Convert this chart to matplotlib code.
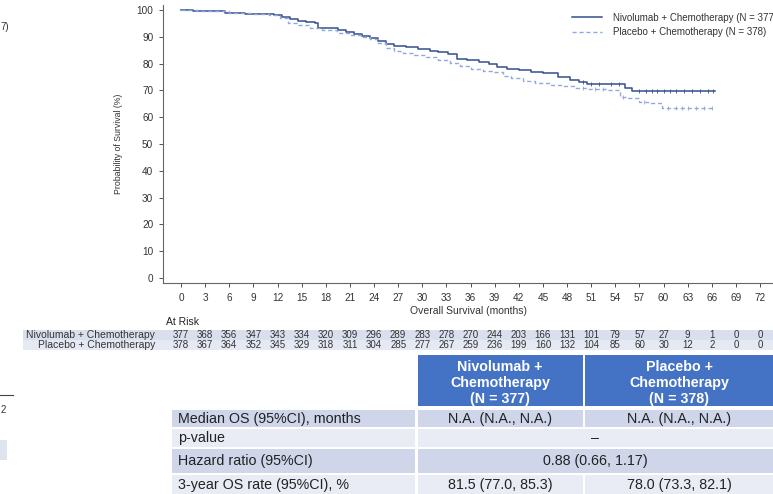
import matplotlib
matplotlib.use("Agg")
import matplotlib.pyplot as plt
from matplotlib.patches import Rectangle
from matplotlib.lines import Line2D
import matplotlib.transforms as mtransforms

plt.rcParams['font.family'] = ['Liberation Sans', 'DejaVu Sans']

# ---- data ----
nivo_t = [0, 1.5, 5.5, 8, 11.5, 12.5, 13.5, 14.5, 15.5, 16.6, 17.0, 19.5, 20.5, 21.5, 22.5,
          23.5, 24.5, 25.5, 26.5, 28, 29.5, 31, 32, 33.2, 34.3, 35.5, 37, 38.3, 39.3, 40.5,
          42, 43.5, 45, 46.9, 48.4, 49.5, 50.5, 55.2, 56.1, 66.4]
nivo_s = [100, 99.6, 98.9, 98.5, 98.2, 97.5, 96.6, 96.0, 95.5, 95.0, 93.5, 92.6, 91.8, 91.0, 90.4,
          89.5, 88.4, 87.3, 86.6, 86.1, 85.4, 84.8, 84.4, 83.6, 81.6, 81.2, 80.6, 79.8, 78.6, 78.0,
          77.5, 77.0, 76.4, 75.2, 73.9, 73.2, 72.3, 70.8, 69.9, 69.9]
plac_t = [0, 2, 4, 6, 9, 11, 12.3, 13.3, 14.5, 16, 17.5, 19.4, 21, 22.5, 23.5, 24.5, 25.5, 26.5,
          27.6, 29, 30.5, 32, 33.5, 34.7, 36, 37.5, 38.8, 40, 41, 42.5, 44, 46, 47.5, 48.8, 50.5,
          53, 54.6, 55.5, 57, 58.3, 59.8, 66.4]
plac_s = [100, 99.7, 99.5, 99.0, 98.6, 98.0, 97.0, 95.2, 94.3, 93.2, 92.5, 91.5, 90.6, 89.9, 89.3,
          87.6, 85.8, 84.8, 84.0, 83.2, 82.5, 81.4, 80.2, 79.2, 78.1, 77.4, 76.8, 75.5, 74.6, 73.6,
          72.7, 72.0, 71.5, 70.8, 70.4, 70.1, 67.6, 67.0, 65.8, 65.2, 63.3, 63.3]
nivo_cens_t = [50.0, 51.0, 52.0, 53.5, 54.5, 57.0, 57.8, 58.5, 59.2, 60.0, 60.8, 61.5, 62.5, 63.5, 64.5, 65.5, 66.2]
plac_cens_t = [50.0, 51.5, 52.5, 55.0, 57.5, 60.5, 61.5, 62.3, 63.0, 64.0, 65.0, 66.0]

risk_months = list(range(0, 73, 3))
nivo_risk = [377, 368, 356, 347, 343, 334, 320, 309, 296, 289, 283, 278, 270, 244, 203, 166, 131,
             101, 79, 57, 27, 9, 1, 0, 0]
plac_risk = [378, 367, 364, 352, 345, 329, 318, 311, 304, 285, 277, 267, 259, 236, 199, 160, 132,
             104, 85, 60, 30, 12, 2, 0, 0]
arm_names = ["Nivolumab + Chemotherapy", "Placebo + Chemotherapy"]
arm_n = [377, 378]

tbl_rows = ["Median OS (95%CI), months", "p-value", "Hazard ratio (95%CI)", "3-year OS rate (95%CI), %"]
tbl_nivo = ["N.A. (N.A., N.A.)", None, None, "81.5 (77.0, 85.3)"]
tbl_plac = ["N.A. (N.A., N.A.)", None, None, "78.0 (73.3, 82.1)"]
tbl_merged = [None, "\u2013", "0.88 (0.66, 1.17)", None]

W, H = 773, 494
NIVO_C = "#34508c"
PLAC_C = "#8fa9da"


def fx(x):
    return x / W


def fy(y):
    return 1 - y / H


fig = plt.figure(figsize=(7.73, 4.94), dpi=100)
ax = fig.add_axes([fx(163), fy(283), fx(773) - fx(163), fy(5) - fy(283)])

ax.step(nivo_t, nivo_s, where='post', color=NIVO_C, lw=1.1)
ax.step(plac_t, plac_s, where='post', color=PLAC_C, lw=1.0, ls=(0, (3, 2)))


def surv_at(ts, ss, t):
    v = ss[0]
    for a, b in zip(ts, ss):
        if a <= t:
            v = b
    return v


ax.plot(nivo_cens_t, [surv_at(nivo_t, nivo_s, t) for t in nivo_cens_t], ls='none',
        marker='|', ms=3, color=NIVO_C, mew=0.6)
ax.plot(plac_cens_t, [surv_at(plac_t, plac_s, t) for t in plac_cens_t], ls='none',
        marker='|', ms=3, color=PLAC_C, mew=0.6)

ax.set_xlim(-2.24, 73.6)
ax.set_ylim(-1.87, 101.9)
ax.set_xticks(risk_months)
ax.set_yticks(range(0, 101, 10))
for s in ['top', 'right']:
    ax.spines[s].set_visible(False)
for s in ['left', 'bottom']:
    ax.spines[s].set_color('#666666')
    ax.spines[s].set_linewidth(0.8)
ax.tick_params(labelsize=7.2, colors='#333333', length=3, width=0.6, pad=4)
ax.set_xlabel("Overall Survival (months)", fontsize=7.5, color='#333333', labelpad=2)
ax.set_ylabel("Probability of Survival (%)", fontsize=6.3, color='#333333', labelpad=10)

# legend (right edge clipped as in the source image)
handles = [Line2D([], [], color=NIVO_C, lw=1.1),
           Line2D([], [], color=PLAC_C, lw=1.0, ls=(0, (3, 2)))]
labels = [f"{n} (N = {k})" for n, k in zip(arm_names, arm_n)]
fig.legend(handles, labels, loc='upper left', bbox_to_anchor=(fx(563), fy(4)), frameon=False,
           fontsize=7.0, handlelength=3.1, handletextpad=1.1, labelspacing=0.45,
           labelcolor='#333333')

# at-risk table
tr = mtransforms.blended_transform_factory(ax.transData, fig.transFigure)
fig.text(fx(166), fy(322), "At Risk", fontsize=7.5, color='#222222', va='center')
for i, (name, row, col) in enumerate(zip(arm_names, [nivo_risk, plac_risk], ['#d9dfec', '#e4e9f4'])):
    yc = 335 + i * 10
    fig.patches.append(Rectangle((fx(23), fy(yc + 5)), fx(773) - fx(23), 10 / H,
                                 transform=fig.transFigure, facecolor=col, edgecolor='none', zorder=-1))
    fig.text(fx(155), fy(yc), name, fontsize=7.5, color='#333333', ha='right', va='center')
    for m, v in zip(risk_months, row):
        ax.text(m, fy(yc), str(v), transform=tr, fontsize=7, color='#333333',
                ha='center', va='center', clip_on=False)

# summary table
HEAD_C = "#4472c4"
DARK_C = "#cfd6ea"
LIGHT_C = "#e9ecf5"


def box(x0, y0, x1, y1, c):
    fig.patches.append(Rectangle((fx(x0), fy(y1)), fx(x1) - fx(x0), (y1 - y0) / H,
                                 transform=fig.transFigure, facecolor=c, edgecolor='none', zorder=-1))


box(418, 355, 583, 406, HEAD_C)
box(585, 355, 773, 406, HEAD_C)
for k, n in enumerate(arm_n):
    xc = 500 if k == 0 else 679
    fig.text(fx(xc), fy(383), arm_names[k].replace(" + ", " +\n") + f"\n(N = {n})",
             color='white', fontsize=10.3, fontweight='bold', ha='center', va='center',
             linespacing=1.22)

row_y = [(410, 427), (429, 447), (449, 473), (475, 494)]
for i, (lab, a, b, mg) in enumerate(zip(tbl_rows, tbl_nivo, tbl_plac, tbl_merged)):
    y0, y1 = row_y[i]
    c = DARK_C if i % 2 == 0 else LIGHT_C
    yc = (y0 + y1) / 2
    box(172, y0, 415, y1, c)
    fig.text(fx(178), fy(yc), lab, fontsize=10.3, color='#222222', va='center')
    if mg is not None:
        box(418, y0, 773, y1, c)
        fig.text(fx(595), fy(yc), mg, fontsize=10.3, color='#222222', ha='center', va='center')
    else:
        box(418, y0, 583, y1, c)
        box(585, y0, 773, y1, c)
        fig.text(fx(500), fy(yc), a, fontsize=10.3, color='#222222', ha='center', va='center')
        fig.text(fx(679), fy(yc), b, fontsize=10.3, color='#222222', ha='center', va='center')

# remnants of neighbouring slide on the left edge
fig.text(fx(9), fy(27), "7)", fontsize=7, color='#333333', ha='right', va='center')
fig.lines.append(Line2D([0, fx(13)], [fy(395), fy(395)], transform=fig.transFigure,
                        color='#444444', lw=0.8))
fig.text(fx(6), fy(410), "2", fontsize=7, color='#333333', ha='right', va='center')
box(0, 440, 7, 460, '#dde3ef')

fig.savefig("out.png", dpi=100)
